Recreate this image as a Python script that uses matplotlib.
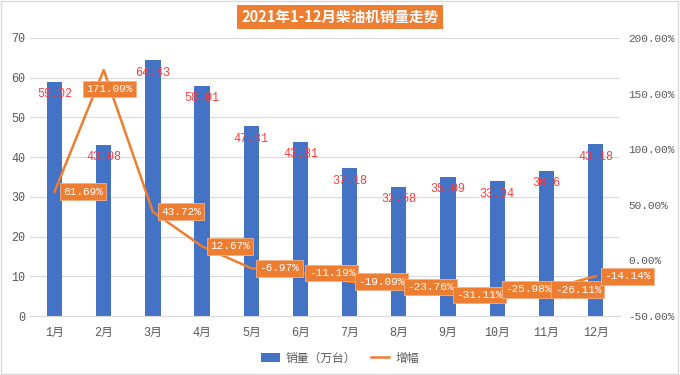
import matplotlib.pyplot as plt
from matplotlib.patches import Rectangle

months = ["1月", "2月", "3月", "4月", "5月", "6月", "7月", "8月", "9月", "10月", "11月", "12月"]
sales = [59.02, 43.08, 64.43, 58.01, 47.81, 43.81, 37.18, 32.58, 35.09, 33.94, 36.6, 43.18]
growth = [61.69, 171.09, 43.72, 12.67, -6.97, -11.19, -19.09, -23.76, -31.11, -25.98, -26.11, -14.14]

BLUE = "#4472C4"
ORANGE = "#ED7D31"
GRAY = "#595959"
NUM_FONT = ["Liberation Mono", "Noto Sans CJK SC"]
NUM_SIZE = 8

plt.rcParams["font.family"] = ["Noto Sans CJK SC", "DejaVu Sans"]

fig = plt.figure(figsize=(6.8, 3.75), dpi=100)
ax = fig.add_axes([0.044, 0.157, 0.868, 0.742])
x = list(range(len(months)))

ax.bar(x, sales, width=0.31, color=BLUE, label="销量（万台）", zorder=2)
ax.set_ylim(0, 70)
ax.set_xlim(-0.5, len(months) - 0.5)
ax.set_yticks(range(0, 71, 10))
ax.grid(axis="y", color="#D9D9D9", linewidth=0.8, zorder=0)
ax.set_axisbelow(True)
for s in ["top", "right", "left"]:
    ax.spines[s].set_visible(False)
ax.spines["bottom"].set_color("#D9D9D9")
ax.tick_params(length=0, colors=GRAY, labelsize=8.5)
ax.set_xticks(x)
ax.set_xticklabels(months, family=NUM_FONT)
for lab in ax.get_yticklabels():
    lab.set_family(NUM_FONT)
ax.tick_params(axis="x", pad=8)

for xi, v in zip(x, sales):
    ax.annotate(f"{v:g}", (xi, v), xytext=(0, -9), textcoords="offset points",
                ha="center", va="center", color="#FF3B3B", fontsize=8.5,
                family=NUM_FONT, zorder=5)

ax2 = ax.twinx()
ax2.plot(x, growth, color=ORANGE, linewidth=1.8, label="增幅", zorder=3)
ax2.set_ylim(-50, 200)
ax2.set_yticks(range(-50, 201, 50))
ax2.set_yticklabels([f"{t:.2f}%" for t in range(-50, 201, 50)], family=NUM_FONT)
for s in ["top", "right", "left", "bottom"]:
    ax2.spines[s].set_visible(False)
ax2.tick_params(length=0, colors=GRAY, labelsize=NUM_SIZE, pad=6)

peak = growth.index(max(growth))
for xi, g in zip(x, growth):
    if xi == peak:
        off, ha, va = (4, -10), "center", "top"
    else:
        off, ha, va = (6, 0), "left", "center"
    ax2.annotate(f"{g:.2f}%", (xi, g), xytext=off, textcoords="offset points",
                 ha=ha, va=va, color="white", fontsize=NUM_SIZE, family=NUM_FONT,
                 bbox=dict(boxstyle="square,pad=0.3", fc=ORANGE, ec="#F4B183", lw=0.6),
                 zorder=6, annotation_clip=False)

fig.text(0.5, 0.955, "2021年1-12月柴油机销量走势", ha="center", va="center",
         color="white", fontsize=10.5, fontweight="bold",
         bbox=dict(boxstyle="square,pad=0.3", fc=ORANGE, ec="none"))

h1, l1 = ax.get_legend_handles_labels()
h2, l2 = ax2.get_legend_handles_labels()
fig.legend(h1 + h2, l1 + l2, loc="center", bbox_to_anchor=(0.5, 0.045), ncol=2,
           frameon=False, fontsize=8.5, labelcolor=GRAY, handlelength=1.6,
           handleheight=0.9, columnspacing=1.2, handletextpad=0.5)

fig.patches.append(Rectangle((0.002, 0.004), 0.995, 0.993, transform=fig.transFigure,
                             fill=False, ec="#D9D9D9", lw=1))

fig.savefig("out.png", dpi=100)
